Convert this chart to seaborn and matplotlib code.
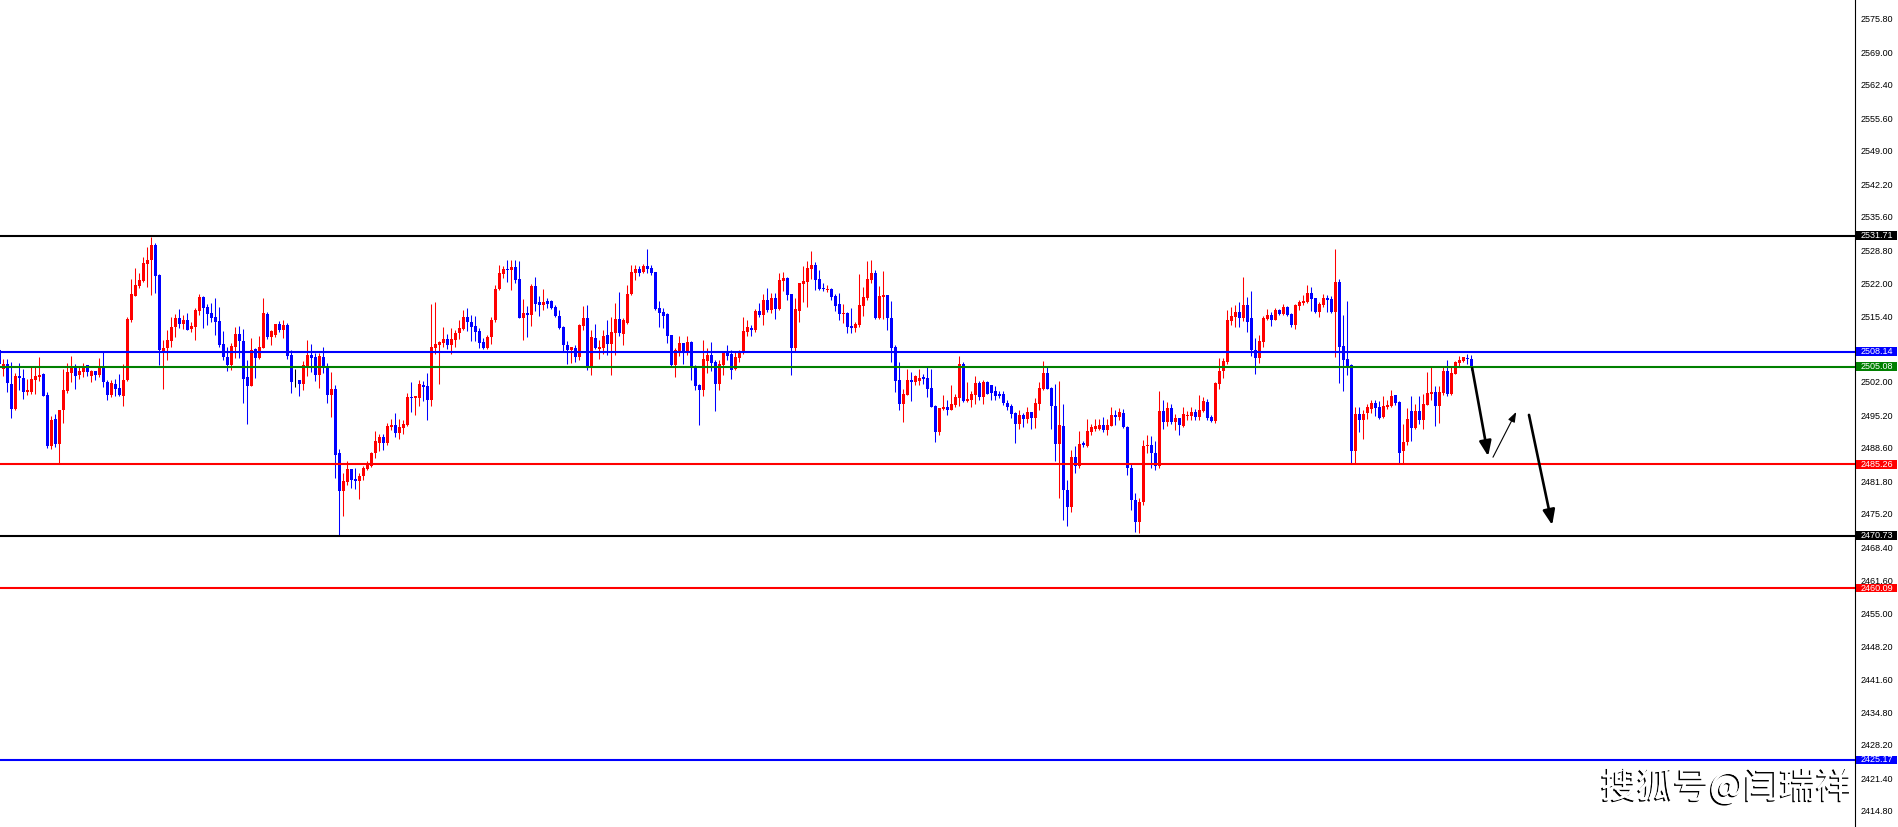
import numpy as np
import pandas as pd
import matplotlib
matplotlib.use("Agg")
import matplotlib.pyplot as plt
import matplotlib.patheffects as pe
from matplotlib.patches import Rectangle
import seaborn as sns

# candle data, first bar is the one cut by the left edge
opens = [
    2508.5, 2504.6, 2505.7, 2501.6, 2496.4, 2503.3, 2502.9, 2500.0, 2500.0, 2502.4,
    2503.1, 2503.7, 2499.3, 2489.0, 2494.5, 2489.4, 2496.2, 2500.2, 2503.9, 2504.9,
    2503.4, 2504.1, 2505.4, 2503.3, 2504.2, 2503.4, 2505.0, 2501.9, 2499.4, 2501.6,
    2500.8, 2499.2, 2502.3, 2514.6, 2519.5, 2521.6, 2522.6, 2526.0, 2526.7, 2529.8,
    2523.7, 2508.2, 2508.9, 2510.4, 2513.1, 2515.0, 2513.8, 2514.6, 2512.8, 2513.2,
    2516.5, 2519.3, 2517.2, 2516.0, 2515.2, 2514.4, 2509.7, 2507.0, 2505.4, 2509.2,
    2511.7, 2510.4, 2503.0, 2501.2, 2508.6, 2506.9, 2508.9, 2515.8, 2511.2, 2511.5,
    2513.8, 2512.6, 2513.6, 2507.5, 2502.1, 2502.3, 2501.6, 2505.2, 2507.5, 2507.1,
    2503.5, 2507.1, 2505.2, 2499.4, 2500.6, 2487.5, 2479.9, 2481.7, 2484.3, 2482.3,
    2481.9, 2482.8, 2484.3, 2484.9, 2487.5, 2489.5, 2490.8, 2489.5, 2492.8, 2493.2,
    2491.6, 2492.6, 2493.2, 2498.9, 2498.8, 2498.8, 2501.3, 2501.1, 2498.3, 2508.9,
    2509.6, 2509.9, 2510.7, 2509.5, 2510.5, 2512.0, 2512.8, 2515.2, 2514.2, 2513.4,
    2512.4, 2510.1, 2508.8, 2511.1, 2514.5, 2520.9, 2524.0, 2525.0, 2524.8, 2525.4,
    2522.9, 2515.0, 2516.0, 2515.6, 2521.5, 2518.2, 2517.6, 2518.5, 2518.5, 2517.2,
    2515.5, 2513.2, 2509.6, 2508.5, 2509.0, 2507.1, 2513.4, 2515.0, 2505.2, 2510.9,
    2508.7, 2508.8, 2511.5, 2509.7, 2511.9, 2514.7, 2511.7, 2513.9, 2519.9, 2524.2,
    2525.0, 2524.3, 2525.6, 2525.2, 2524.4, 2517.0, 2516.2, 2515.8, 2511.5, 2505.4,
    2508.3, 2509.9, 2508.3, 2510.1, 2505.2, 2501.4, 2500.4, 2506.3, 2507.5, 2506.1,
    2501.6, 2505.4, 2507.9, 2507.7, 2504.6, 2506.9, 2507.9, 2512.2, 2513.0, 2512.6,
    2516.4, 2515.6, 2518.7, 2516.6, 2519.1, 2516.8, 2522.5, 2523.1, 2519.9, 2508.9,
    2516.4, 2521.9, 2522.3, 2525.0, 2525.8, 2522.9, 2521.1, 2520.7, 2520.9, 2519.5,
    2517.8, 2515.8, 2516.0, 2513.4, 2513.0, 2513.6, 2517.4, 2519.1, 2522.7, 2524.2,
    2515.0, 2519.3, 2519.7, 2515.0, 2509.1, 2502.4, 2497.5, 2499.3, 2502.4, 2502.0,
    2502.2, 2503.0, 2502.8, 2500.8, 2497.1, 2491.8, 2496.5, 2496.9, 2496.3, 2497.3,
    2498.7, 2505.6, 2498.1, 2498.3, 2499.3, 2501.8, 2498.9, 2502.0, 2501.4, 2500.2,
    2499.6, 2499.6, 2497.7, 2497.1, 2495.7, 2493.4, 2495.3, 2494.5, 2495.9, 2494.7,
    2497.5, 2500.6, 2503.8, 2500.8, 2497.1, 2489.4, 2493.0, 2480.0, 2476.5, 2486.8,
    2485.0, 2489.5, 2489.0, 2491.8, 2492.4, 2492.5, 2493.3, 2492.2, 2493.1, 2495.3,
    2494.8, 2495.7, 2492.8, 2484.5, 2478.0, 2473.5, 2477.5, 2488.9, 2489.2, 2487.5,
    2485.0, 2496.1, 2493.9, 2496.7, 2493.9, 2494.7, 2493.0, 2495.1, 2495.1, 2495.9,
    2494.9, 2496.1, 2497.9, 2494.9, 2494.1, 2501.6, 2504.2, 2506.1, 2514.4, 2515.2,
    2516.2, 2515.0, 2517.6, 2515.0, 2508.5, 2506.9, 2510.1, 2514.8, 2515.6, 2514.6,
    2516.6, 2515.8, 2517.2, 2515.8, 2513.6, 2517.4, 2518.1, 2518.2, 2520.1, 2519.1,
    2516.2, 2517.6, 2519.1, 2518.9, 2516.2, 2522.3, 2509.4, 2506.7, 2505.5, 2488.0,
    2495.5, 2494.3, 2495.7, 2496.5, 2497.7, 2496.9, 2494.9, 2496.9, 2497.1, 2499.3,
    2497.9, 2488.0, 2489.8, 2496.1, 2492.6, 2496.1, 2494.3, 2497.3, 2499.6, 2500.0,
    2497.1, 2499.8, 2504.2, 2499.6, 2503.6, 2505.9, 2506.3, 2506.9, 2506.7,
]
highs = [
    2508.8, 2506.7, 2506.7, 2506.0, 2503.8, 2505.9, 2504.6, 2502.5, 2505.0, 2505.0,
    2507.1, 2503.9, 2500.0, 2495.1, 2495.5, 2496.3, 2504.6, 2505.9, 2507.3, 2505.7,
    2505.0, 2505.9, 2505.5, 2504.5, 2504.2, 2506.8, 2508.2, 2502.3, 2502.3, 2502.5,
    2503.6, 2505.7, 2515.3, 2522.9, 2525.1, 2524.2, 2527.5, 2529.4, 2531.5, 2530.3,
    2523.9, 2510.5, 2512.6, 2515.3, 2515.8, 2516.8, 2515.7, 2516.0, 2514.2, 2517.1,
    2519.8, 2519.5, 2517.8, 2518.0, 2519.1, 2517.2, 2512.4, 2509.2, 2509.9, 2513.1,
    2513.4, 2512.7, 2506.5, 2511.0, 2508.8, 2511.4, 2519.1, 2516.3, 2512.6, 2513.8,
    2514.4, 2514.6, 2514.0, 2508.4, 2504.6, 2502.3, 2506.2, 2510.5, 2509.7, 2507.8,
    2507.8, 2509.1, 2505.9, 2504.1, 2501.4, 2488.3, 2483.4, 2486.0, 2484.4, 2484.6,
    2483.5, 2485.0, 2486.0, 2487.7, 2492.1, 2491.4, 2491.4, 2493.6, 2494.4, 2495.7,
    2494.4, 2494.3, 2499.8, 2501.9, 2499.2, 2502.4, 2502.2, 2503.8, 2517.8, 2518.2,
    2510.4, 2513.2, 2511.7, 2512.9, 2512.6, 2514.6, 2516.6, 2517.1, 2515.6, 2515.4,
    2513.0, 2510.9, 2511.5, 2515.2, 2521.7, 2525.8, 2525.6, 2526.7, 2526.8, 2526.8,
    2526.5, 2518.9, 2517.4, 2521.9, 2523.3, 2519.5, 2520.9, 2519.1, 2518.7, 2517.6,
    2516.6, 2513.4, 2510.3, 2509.1, 2509.5, 2513.8, 2517.4, 2517.6, 2512.6, 2513.8,
    2510.5, 2512.6, 2514.5, 2515.3, 2518.1, 2520.3, 2514.9, 2521.7, 2525.8, 2525.8,
    2525.6, 2526.0, 2529.0, 2525.8, 2524.4, 2518.4, 2517.0, 2516.0, 2511.5, 2508.8,
    2511.3, 2509.9, 2511.3, 2510.3, 2505.4, 2501.6, 2510.5, 2509.0, 2510.1, 2506.5,
    2506.5, 2508.3, 2509.5, 2508.5, 2508.3, 2508.5, 2515.3, 2514.6, 2513.6, 2516.8,
    2518.0, 2519.9, 2521.1, 2520.1, 2520.1, 2524.1, 2524.4, 2523.3, 2519.9, 2519.1,
    2522.1, 2525.6, 2526.6, 2528.6, 2526.4, 2524.8, 2522.1, 2521.7, 2521.1, 2519.9,
    2520.1, 2517.8, 2516.2, 2517.0, 2514.2, 2523.9, 2521.3, 2526.6, 2526.8, 2524.8,
    2521.5, 2524.6, 2519.7, 2518.4, 2509.5, 2506.1, 2500.6, 2504.6, 2504.0, 2503.4,
    2504.6, 2503.6, 2505.0, 2504.6, 2497.3, 2496.7, 2499.3, 2498.3, 2501.4, 2499.6,
    2507.3, 2506.1, 2502.0, 2500.2, 2503.2, 2502.2, 2502.4, 2502.2, 2501.4, 2501.2,
    2500.2, 2500.2, 2498.3, 2497.5, 2495.9, 2496.3, 2495.7, 2496.9, 2495.9, 2498.7,
    2502.0, 2506.3, 2505.0, 2501.0, 2501.6, 2502.2, 2497.5, 2482.0, 2488.2, 2489.0,
    2492.0, 2490.0, 2494.5, 2493.5, 2494.5, 2494.5, 2494.9, 2494.5, 2496.9, 2496.3,
    2496.7, 2496.5, 2493.0, 2485.3, 2479.5, 2478.5, 2490.2, 2491.2, 2491.0, 2490.0,
    2500.2, 2498.3, 2497.9, 2497.5, 2495.5, 2494.7, 2496.9, 2496.1, 2496.9, 2496.5,
    2499.3, 2498.9, 2498.5, 2495.3, 2502.0, 2506.9, 2506.9, 2516.6, 2517.2, 2517.6,
    2518.2, 2523.3, 2519.3, 2520.5, 2510.9, 2511.5, 2515.4, 2516.8, 2516.2, 2517.0,
    2516.9, 2517.8, 2517.4, 2516.0, 2517.8, 2518.7, 2519.7, 2521.7, 2521.3, 2519.1,
    2518.2, 2519.9, 2519.7, 2519.5, 2529.0, 2522.9, 2515.6, 2518.4, 2505.7, 2496.9,
    2496.9, 2496.3, 2497.5, 2498.3, 2498.3, 2498.1, 2499.1, 2498.3, 2500.4, 2499.3,
    2498.1, 2493.5, 2496.7, 2499.1, 2497.5, 2499.1, 2499.6, 2504.0, 2505.0, 2501.2,
    2501.2, 2505.0, 2506.5, 2505.0, 2506.3, 2507.3, 2507.1, 2507.7, 2507.5,
]
lows = [
    2505.1, 2503.3, 2500.0, 2494.7, 2496.3, 2500.4, 2498.6, 2499.4, 2499.6, 2499.6,
    2502.1, 2499.2, 2488.5, 2488.3, 2488.8, 2485.4, 2493.7, 2499.8, 2501.9, 2500.6,
    2502.5, 2503.0, 2503.2, 2501.9, 2502.3, 2503.1, 2501.0, 2498.3, 2498.9, 2499.2,
    2499.1, 2497.2, 2502.1, 2514.2, 2519.4, 2521.0, 2522.3, 2521.3, 2519.7, 2520.1,
    2505.5, 2500.6, 2506.5, 2509.2, 2511.2, 2513.0, 2512.8, 2512.6, 2512.2, 2510.6,
    2515.6, 2513.0, 2513.6, 2514.1, 2511.6, 2509.1, 2506.5, 2504.3, 2504.4, 2506.8,
    2506.9, 2497.8, 2493.4, 2501.2, 2502.9, 2506.6, 2508.9, 2510.7, 2509.5, 2511.2,
    2512.2, 2511.0, 2506.7, 2499.8, 2501.0, 2499.2, 2500.4, 2503.2, 2504.1, 2502.2,
    2500.8, 2503.9, 2497.8, 2494.9, 2482.4, 2470.9, 2474.8, 2481.1, 2480.5, 2480.2,
    2478.3, 2482.1, 2484.1, 2484.7, 2486.5, 2488.0, 2488.2, 2489.2, 2492.2, 2490.8,
    2490.5, 2491.5, 2493.0, 2495.8, 2495.3, 2497.2, 2498.2, 2494.3, 2497.1, 2507.7,
    2501.6, 2509.2, 2508.7, 2507.7, 2509.2, 2510.8, 2512.6, 2512.3, 2510.3, 2510.4,
    2509.0, 2508.6, 2508.6, 2509.7, 2514.1, 2520.7, 2523.2, 2522.4, 2520.7, 2522.2,
    2514.9, 2510.5, 2511.1, 2513.4, 2516.5, 2515.4, 2516.7, 2517.1, 2516.8, 2515.3,
    2512.7, 2508.3, 2505.6, 2505.9, 2506.1, 2506.5, 2512.6, 2504.4, 2503.4, 2508.6,
    2506.7, 2507.6, 2507.5, 2503.4, 2507.5, 2511.4, 2509.5, 2513.8, 2519.6, 2522.7,
    2523.5, 2524.1, 2524.1, 2523.8, 2516.6, 2513.2, 2513.0, 2509.9, 2505.2, 2503.1,
    2507.3, 2505.6, 2507.5, 2502.4, 2500.4, 2493.3, 2499.1, 2503.8, 2504.2, 2496.1,
    2500.4, 2503.4, 2506.5, 2502.6, 2504.4, 2506.1, 2507.7, 2511.4, 2511.3, 2512.2,
    2515.2, 2513.6, 2516.2, 2516.0, 2514.8, 2516.6, 2520.5, 2518.7, 2503.4, 2508.2,
    2514.2, 2518.2, 2517.2, 2522.9, 2520.7, 2520.7, 2520.5, 2520.3, 2518.7, 2516.4,
    2514.6, 2514.0, 2512.0, 2512.0, 2512.2, 2513.2, 2515.4, 2518.7, 2522.1, 2514.8,
    2514.8, 2514.8, 2512.6, 2506.1, 2500.0, 2496.3, 2493.9, 2499.3, 2498.1, 2501.4,
    2501.4, 2501.6, 2498.9, 2496.9, 2489.8, 2491.2, 2496.3, 2495.3, 2496.3, 2497.0,
    2497.1, 2497.9, 2497.9, 2496.9, 2497.5, 2498.3, 2497.5, 2499.6, 2498.3, 2498.3,
    2498.7, 2497.3, 2496.3, 2494.7, 2489.6, 2492.4, 2492.8, 2493.7, 2492.4, 2492.6,
    2496.3, 2500.4, 2500.6, 2492.4, 2486.0, 2478.5, 2474.0, 2472.8, 2475.5, 2483.5,
    2484.5, 2488.8, 2488.8, 2491.2, 2492.0, 2492.2, 2491.8, 2491.2, 2493.0, 2493.3,
    2494.3, 2492.6, 2483.0, 2476.0, 2471.5, 2471.2, 2477.0, 2487.5, 2484.5, 2484.0,
    2484.6, 2492.4, 2493.1, 2493.4, 2492.2, 2491.2, 2492.9, 2494.3, 2494.3, 2494.3,
    2494.3, 2495.9, 2494.3, 2493.9, 2493.7, 2500.6, 2502.8, 2505.7, 2513.6, 2513.2,
    2513.2, 2514.4, 2512.2, 2507.3, 2503.6, 2505.9, 2509.1, 2514.6, 2513.4, 2514.5,
    2515.6, 2515.6, 2515.4, 2513.2, 2512.8, 2516.6, 2517.6, 2518.0, 2516.4, 2516.0,
    2515.2, 2517.2, 2516.2, 2516.0, 2507.1, 2501.8, 2500.2, 2503.5, 2485.3, 2485.5,
    2491.8, 2490.4, 2494.5, 2495.7, 2495.1, 2494.5, 2494.7, 2496.5, 2496.9, 2497.3,
    2485.3, 2485.5, 2489.1, 2489.9, 2492.4, 2493.4, 2492.4, 2497.3, 2498.3, 2493.0,
    2493.7, 2499.3, 2499.1, 2499.3, 2503.6, 2505.2, 2506.1, 2505.7, 2504.4,
]
closes = [
    2505.6, 2505.7, 2501.7, 2496.4, 2503.2, 2502.9, 2500.0, 2500.3, 2502.5, 2503.2,
    2503.4, 2499.2, 2489.0, 2494.3, 2489.4, 2496.3, 2500.4, 2504.0, 2504.8, 2503.3,
    2504.2, 2505.3, 2504.1, 2504.2, 2503.4, 2505.0, 2501.9, 2499.4, 2501.8, 2500.6,
    2499.4, 2502.4, 2514.8, 2519.9, 2521.7, 2522.7, 2526.2, 2526.8, 2529.8, 2523.6,
    2508.4, 2508.9, 2510.5, 2513.2, 2514.9, 2513.8, 2514.6, 2512.6, 2513.4, 2516.6,
    2519.2, 2517.0, 2515.8, 2515.1, 2514.2, 2509.6, 2507.1, 2505.4, 2509.4, 2511.7,
    2510.3, 2502.7, 2501.2, 2508.5, 2506.9, 2509.1, 2516.0, 2511.2, 2512.3, 2513.8,
    2512.6, 2513.6, 2507.3, 2502.0, 2502.1, 2501.6, 2505.4, 2507.5, 2506.9, 2503.5,
    2507.3, 2505.2, 2499.4, 2500.6, 2487.2, 2479.9, 2481.9, 2484.3, 2482.1, 2481.9,
    2482.9, 2484.6, 2485.6, 2487.5, 2490.0, 2490.8, 2489.5, 2493.0, 2493.3, 2491.7,
    2492.8, 2493.5, 2498.9, 2498.7, 2499.1, 2501.6, 2501.0, 2498.3, 2509.1, 2509.7,
    2510.2, 2510.7, 2509.5, 2510.7, 2512.0, 2512.9, 2515.2, 2514.1, 2513.2, 2512.2,
    2510.0, 2508.8, 2511.1, 2514.6, 2520.9, 2524.2, 2525.0, 2524.8, 2525.4, 2522.7,
    2515.0, 2516.0, 2515.6, 2521.5, 2517.9, 2517.6, 2518.2, 2517.9, 2517.0, 2515.5,
    2513.0, 2509.5, 2508.5, 2509.1, 2507.1, 2513.6, 2515.0, 2505.2, 2511.1, 2508.8,
    2509.2, 2511.4, 2509.7, 2512.2, 2514.7, 2511.9, 2514.5, 2519.9, 2524.4, 2525.0,
    2524.2, 2525.6, 2525.0, 2524.2, 2516.8, 2516.0, 2515.5, 2511.4, 2505.4, 2508.5,
    2509.9, 2508.2, 2510.1, 2505.2, 2501.2, 2500.4, 2506.7, 2507.5, 2505.9, 2501.6,
    2505.6, 2507.9, 2507.3, 2504.4, 2507.1, 2507.9, 2512.4, 2513.2, 2512.6, 2516.4,
    2515.6, 2518.7, 2516.6, 2519.1, 2516.8, 2522.7, 2523.1, 2519.7, 2508.9, 2516.8,
    2522.1, 2522.5, 2525.2, 2525.8, 2522.7, 2520.9, 2520.9, 2520.9, 2519.3, 2517.4,
    2515.8, 2516.0, 2513.2, 2513.0, 2513.8, 2517.6, 2519.3, 2522.9, 2524.2, 2515.0,
    2519.5, 2519.7, 2515.0, 2508.9, 2502.2, 2497.5, 2499.6, 2502.4, 2502.0, 2503.2,
    2502.8, 2502.6, 2500.6, 2496.9, 2491.8, 2496.7, 2496.9, 2496.3, 2497.5, 2498.9,
    2505.6, 2498.1, 2498.5, 2499.5, 2501.8, 2498.9, 2502.0, 2499.6, 2499.8, 2499.2,
    2499.2, 2497.7, 2497.0, 2495.5, 2493.4, 2495.3, 2494.5, 2495.9, 2494.7, 2497.7,
    2500.8, 2503.8, 2500.6, 2497.1, 2489.4, 2493.3, 2480.0, 2476.5, 2486.8, 2485.0,
    2489.4, 2489.2, 2492.1, 2492.8, 2493.0, 2493.3, 2492.2, 2493.3, 2495.3, 2494.9,
    2495.9, 2492.8, 2484.5, 2478.0, 2473.5, 2477.5, 2489.0, 2489.2, 2487.5, 2485.0,
    2496.1, 2493.9, 2496.7, 2493.9, 2494.7, 2493.3, 2495.5, 2495.3, 2495.9, 2494.9,
    2496.3, 2498.1, 2494.7, 2494.1, 2501.8, 2504.2, 2506.3, 2514.6, 2515.4, 2516.2,
    2515.0, 2517.6, 2514.2, 2508.5, 2506.9, 2510.3, 2515.0, 2515.6, 2514.6, 2516.6,
    2515.8, 2517.2, 2515.6, 2513.6, 2517.6, 2518.2, 2518.5, 2520.1, 2518.9, 2516.2,
    2517.8, 2519.1, 2518.7, 2516.2, 2522.3, 2509.2, 2506.5, 2505.3, 2488.0, 2495.5,
    2494.3, 2495.5, 2496.9, 2497.7, 2496.7, 2494.7, 2497.1, 2497.3, 2499.1, 2497.7,
    2487.5, 2489.8, 2494.5, 2492.6, 2496.1, 2494.3, 2497.5, 2499.8, 2500.0, 2497.1,
    2500.0, 2504.2, 2499.6, 2503.8, 2506.1, 2506.5, 2507.1, 2506.7, 2504.8,
]

# horizontal levels drawn on the chart
level_prices = [2531.71, 2508.14, 2505.08, 2485.26, 2470.73, 2460.09, 2425.17]
level_colors = ["#000000", "#0000ff", "#008000", "#ff0000", "#000000", "#ff0000", "#0000ff"]

tick_values = [2575.80, 2569.00, 2562.40, 2555.60, 2549.00, 2542.20, 2535.60, 2528.80,
               2522.00, 2515.40, 2502.00, 2495.20, 2488.60, 2481.80, 2475.20, 2468.40,
               2461.60, 2455.00, 2448.20, 2441.60, 2434.80, 2428.20, 2421.40, 2414.80]

# hand drawn arrows: (start bar, start price), (end bar, end price)
arrow_paths = [((367.2, 2504.8), (371.2, 2486.9)),
               ((372.4, 2486.7), (378.2, 2495.9)),
               ((381.4, 2495.3), (387.2, 2472.9))]
arrow_widths = [1.9, 0.8, 1.9]

watermark = "搜狐号@闫瑞祥"

df = pd.DataFrame({"open": opens, "high": highs, "low": lows, "close": closes})
df["bar"] = np.arange(len(df)) - 1
df["colour"] = np.where(df["close"] > df["open"], "#ff0000",
                        np.where(df["close"] < df["open"], "#0000ff", "#000000"))

sns.set_theme(style="white")
plt.rcParams["font.family"] = ["Liberation Sans", "DejaVu Sans"]

W, H = 1899, 827
fig = plt.figure(figsize=(W / 100, H / 100), dpi=100)
ax = fig.add_axes([0, 0, 1855 / W, 1])

# wicks and bodies
ax.vlines(df["bar"], df["low"], df["high"], colors=df["colour"], lw=0.75, zorder=2)
body_lo = np.minimum(df["open"], df["close"])
body_h = np.maximum((df["close"] - df["open"]).abs(), 0.15)
ax.bar(df["bar"], body_h, bottom=body_lo, width=0.72, color=df["colour"],
       linewidth=0, zorder=2)

# levels and their price boxes on the scale
ytr = ax.get_yaxis_transform()
for p, c in zip(level_prices, level_colors):
    ax.axhline(p, color=c, lw=1.5, zorder=3)
    ax.add_patch(Rectangle((1.0006, p - 0.88), 0.0222, 1.76, transform=ytr,
                           facecolor=c, edgecolor="none", clip_on=False, zorder=10))
    ax.text(1.0028, p, f"{p:.2f}", transform=ytr, color="white", fontsize=6.5,
            ha="left", va="center", clip_on=False, zorder=11)

for (start, end), lw in zip(arrow_paths, arrow_widths):
    if lw > 1:
        style = "-|>,head_length=0.75,head_width=0.3"
    else:
        style = "-|>,head_length=0.5,head_width=0.18"
    ax.annotate("", xy=end, xytext=start,
                arrowprops=dict(arrowstyle=style, color="black", lw=lw,
                                shrinkA=0, shrinkB=0), zorder=5)

ax.set_xlim(-0.825, 462.9)
ax.set_ylim(2411.52, 2579.65)
ax.set_xticks([])
ax.yaxis.tick_right()
ax.set_yticks(tick_values)
ax.set_yticklabels([f"{v:.2f}" for v in tick_values])
ax.tick_params(axis="y", which="both", direction="out", length=2, width=0.7,
               pad=2.2, labelsize=6.5, colors="black", right=True, left=False)
sns.despine(ax=ax, left=True, top=True, bottom=True, right=False)
ax.spines["right"].set_color("black")
ax.spines["right"].set_linewidth(0.8)

fig.text(1852 / W, 1 - 787 / H, watermark, ha="right", va="center", fontsize=26,
         color="white", family=["Noto Sans CJK SC", "DejaVu Sans"],
         path_effects=[pe.withSimplePatchShadow(offset=(-1.1, -1.1), shadow_rgbFace="black", alpha=1.0),
                       pe.Normal()])

fig.savefig("out.png", dpi=100, facecolor="white")
